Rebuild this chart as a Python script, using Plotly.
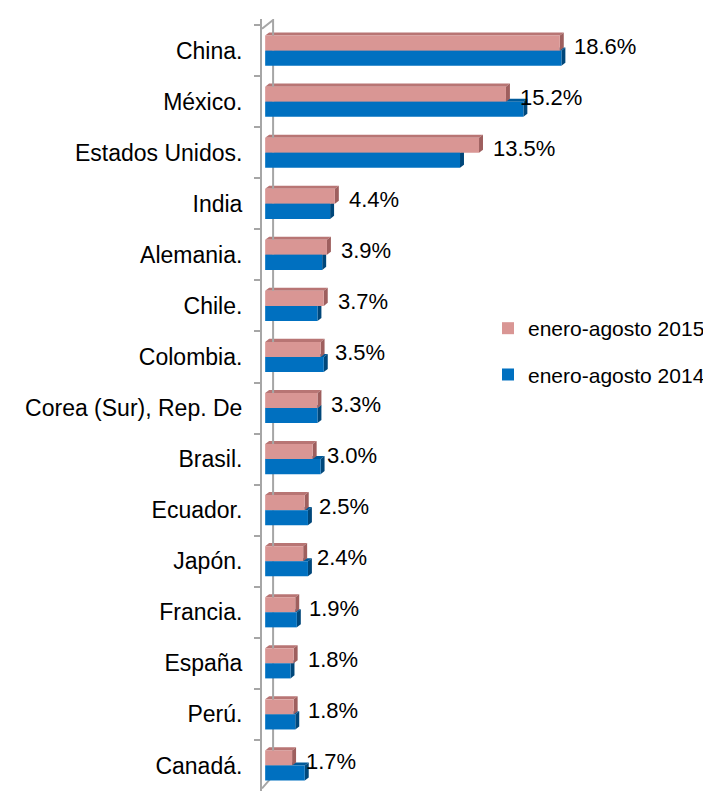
import plotly.graph_objects as go

countries = ["China.", "México.", "Estados Unidos.", "India", "Alemania.", "Chile.",
             "Colombia.", "Corea (Sur), Rep. De", "Brasil.", "Ecuador.", "Japón.",
             "Francia.", "España", "Perú.", "Canadá."]
v2015 = [18.6, 15.2, 13.5, 4.4, 3.9, 3.7, 3.5, 3.3, 3.0, 2.5, 2.4, 1.9, 1.8, 1.8, 1.7]
v2014 = [18.7, 16.3, 12.3, 4.1, 3.6, 3.3, 3.7, 3.3, 3.5, 2.7, 2.7, 2.0, 1.6, 1.9, 2.5]
labels2015 = ["18.6%", "15.2%", "13.5%", "4.4%", "3.9%", "3.7%", "3.5%", "3.3%",
              "3.0%", "2.5%", "2.4%", "1.9%", "1.8%", "1.8%", "1.7%"]
name2015 = "enero-agosto 2015"
name2014 = "enero-agosto 2014"

PINK, PINK_TOP, PINK_SIDE = "#D99694", "#B87574", "#9E5F5E"
BLUE, BLUE_TOP, BLUE_SIDE = "#0070C0", "#005A9A", "#00477A"
FONT = "Liberation Sans, Arial, sans-serif"

W = 0.295      # bar thickness (category units)
DX = 0.25      # 3-D depth in x (data units)
DY = 0.06      # 3-D depth in y (category units)

fig = go.Figure()
fig.add_trace(go.Bar(y=countries, x=v2015, orientation="h", name=name2015,
                     marker=dict(color=PINK, line=dict(width=0)),
                     width=W, offset=-W, legendgroup="a"))
fig.add_trace(go.Bar(y=countries, x=v2014, orientation="h", name=name2014,
                     marker=dict(color=BLUE, line=dict(width=0)),
                     width=W, offset=0, legendgroup="b"))

shapes = []

def faces(v, top, bottom, ctop, cside):
    shapes.append(dict(type="path", xref="x", yref="y", layer="below",
                       path=f"M0,{top} L{v},{top} L{v+DX},{top-DY} L{DX},{top-DY} Z",
                       fillcolor=ctop, line=dict(width=0)))
    shapes.append(dict(type="path", xref="x", yref="y", layer="below",
                       path=f"M{v},{top} L{v+DX},{top-DY} L{v+DX},{bottom-DY} L{v},{bottom} Z",
                       fillcolor=cside, line=dict(width=0)))

for i, v in enumerate(v2014):
    faces(v, i, i + W, BLUE_TOP, BLUE_SIDE)
for i, v in enumerate(v2015):
    faces(v, i - W, i, PINK_TOP, PINK_SIDE)

# back wall line of the 3-D axis
shapes.append(dict(type="path", xref="x", yref="y", layer="below",
                   path="M-0.2,-0.43 L0.5,-0.6 L0.5,14.2 L-0.2,14.45",
                   line=dict(color="#A6A6A6", width=2)))

annotations = []
for i, (v, t) in enumerate(zip(v2015, labels2015)):
    annotations.append(dict(x=v, y=i, xref="x", yref="y", text=t, showarrow=False,
                            xanchor="left", yanchor="middle", xshift=12, yshift=4,
                            font=dict(family=FONT, size=22, color="#000000")))

# page body has an 8px default margin: figure is 703x783 so it fits the 711x791 window
fig.update_layout(
    width=703, height=783,
    margin=dict(l=254, r=129, t=11, b=0, autoexpand=False),
    paper_bgcolor="white", plot_bgcolor="white",
    barmode="overlay",
    shapes=shapes, annotations=annotations,
    showlegend=True,
    legend=dict(x=(480 - 254) / 320, xanchor="left", y=0.6256, yanchor="top",
                traceorder="grouped", tracegroupgap=16,
                font=dict(family=FONT, size=21, color="#000000"),
                bgcolor="rgba(0,0,0,0)", itemwidth=30),
    xaxis=dict(range=[-0.2, 20], visible=False, showgrid=False, zeroline=False),
    yaxis=dict(type="category", autorange="reversed", automargin=False,
               showline=True, linecolor="#A6A6A6", linewidth=2,
               ticks="outside", tickson="boundaries", ticklen=6,
               tickcolor="#A6A6A6", tickwidth=2, showgrid=False,
               ticklabelstandoff=13,
               tickfont=dict(family=FONT, size=23, color="#000000")),
    font=dict(family=FONT),
)

fig.write_html("out.html")
